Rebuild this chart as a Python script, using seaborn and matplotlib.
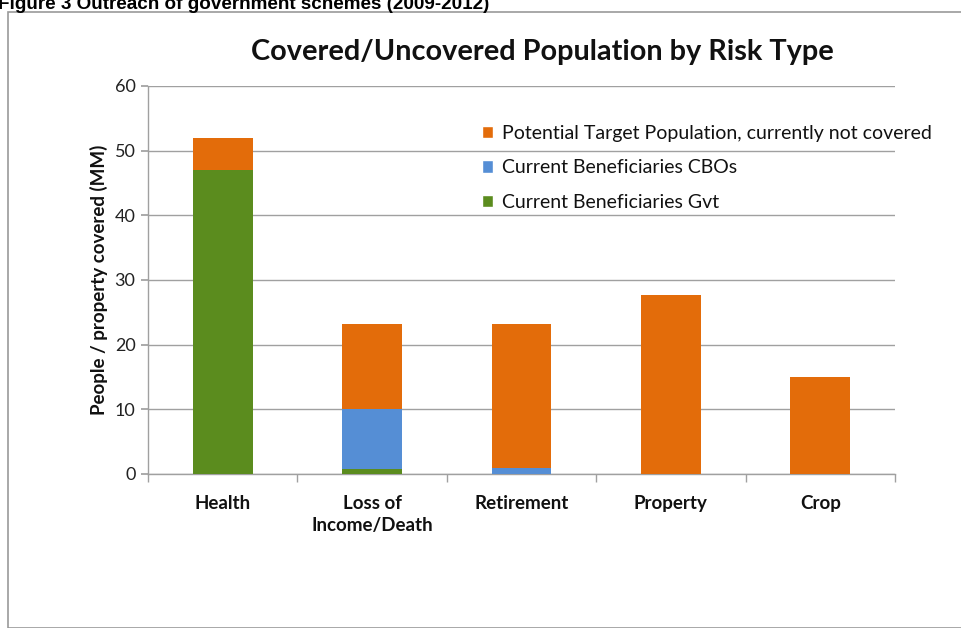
import matplotlib
matplotlib.use("Agg")
import matplotlib.pyplot as plt
import seaborn as sns
import pandas as pd
import numpy as np
from matplotlib.patches import Patch, Rectangle

categories = ["Health", "Loss of\nIncome/Death", "Retirement", "Property", "Crop"]
gvt = [47.0, 0.8, 0.0, 0.0, 0.0]
cbos = [0.0, 9.2, 1.0, 0.0, 0.0]
not_covered = [4.9, 13.2, 22.2, 27.7, 15.0]

series_names = ["Potential Target Population, currently not covered",
                "Current Beneficiaries CBOs",
                "Current Beneficiaries Gvt"]
colors = {"gvt": "#5B8C1E", "cbos": "#558ED5", "nc": "#E36C0A"}

df = pd.DataFrame({"cat": categories, "gvt": gvt, "cbos": cbos, "nc": not_covered})
df["lvl_gvt"] = df["gvt"]
df["lvl_cbos"] = df["gvt"] + df["cbos"]
df["lvl_total"] = df["lvl_cbos"] + df["nc"]

sns.set_theme(style="white")
plt.rcParams["font.family"] = ["Lato", "DejaVu Sans"]

fig = plt.figure(figsize=(9.62, 6.28), dpi=100)
ax = fig.add_axes([148/962, 1-474/628, (895-148)/962, (474-86)/628])

for col, c in [("lvl_total", colors["nc"]), ("lvl_cbos", colors["cbos"]), ("lvl_gvt", colors["gvt"])]:
    sns.barplot(data=df, x="cat", y=col, color=c, width=0.4, ax=ax,
                saturation=1, linewidth=0, zorder=3)

ax.set_ylim(0, 60)
ax.set_xlim(-0.5, 4.5)
ax.set_yticks(range(0, 61, 10))
ax.grid(axis="y", color="#A0A0A0", linewidth=1.0, zorder=0)
ax.set_axisbelow(True)
for s in ["top", "right"]:
    ax.spines[s].set_visible(False)
for s in ["left", "bottom"]:
    ax.spines[s].set_color("#A0A0A0")
    ax.spines[s].set_linewidth(1.0)

ax.set_xlabel("")
ax.set_ylabel("People / property covered (MM)", fontsize=13.5, fontweight="bold",
              color="#111111", labelpad=5)
ax.tick_params(axis="y", which="major", left=True, length=5, color="#A0A0A0",
               labelsize=13, labelcolor="#222222", pad=4)
ax.tick_params(axis="x", which="major", bottom=False, length=0,
               labelsize=13.5, labelcolor="#111111", pad=15)
for lab in ax.get_xticklabels():
    lab.set_fontweight("bold")
    lab.set_linespacing(1.35)
ax.set_xticks(np.arange(-0.5, 5.0, 1.0), minor=True)
ax.tick_params(axis="x", which="minor", bottom=True, length=6, color="#A0A0A0", width=1)

fig.text(542/962, 1-52/628, "Covered/Uncovered Population by Risk Type",
         ha="center", va="center", fontsize=20.8, fontweight="bold", color="#111111")

handles = [Patch(facecolor=colors["nc"]), Patch(facecolor=colors["cbos"]),
           Patch(facecolor=colors["gvt"])]
leg = fig.legend(handles, series_names, loc="upper left",
                 bbox_to_anchor=(474/962, 1-117/628), frameon=False,
                 fontsize=14, handlelength=0.6, handleheight=0.6,
                 handletextpad=0.45, labelspacing=0.9, borderaxespad=0)
for t in leg.get_texts():
    t.set_color("#111111")

# outer frame
fig.patches.append(Rectangle((8/962, 0), 1.2, 1-12/628, transform=fig.transFigure,
                             fill=False, edgecolor="#9A9A9A", linewidth=1.2))

fig.text(-0.002, 1-9/628, "Figure 3 Outreach of government schemes (2009-2012)",
         ha="left", va="baseline", fontsize=13.6, fontweight="bold",
         family=["Liberation Sans", "DejaVu Sans"], color="#000000")

fig.savefig("out.png", dpi=100)
